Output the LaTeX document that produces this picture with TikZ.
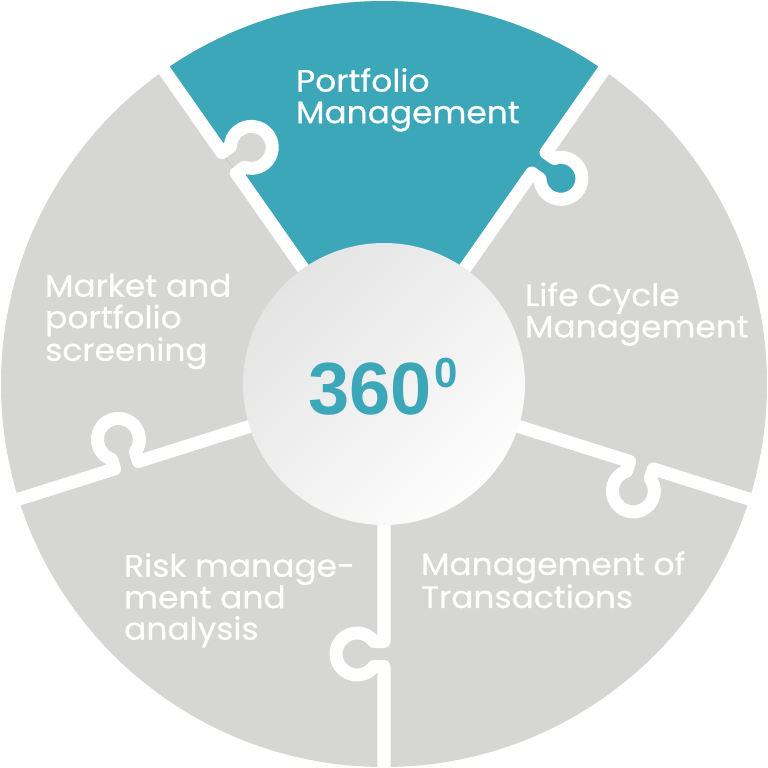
\documentclass[tikz,border=0pt]{standalone}
\usepackage{fontspec}
\setmainfont{Poppins}[FakeStretch=1.06, FakeBold=0.5]
\newfontfamily\numfont{Liberation Sans}
\definecolor{tealpiece}{RGB}{61,167,186}
\definecolor{graypiece}{RGB}{214,214,212}
\definecolor{centerdark}{RGB}{228,228,228}
\definecolor{centerlight}{RGB}{253,253,253}
\begin{document}
\begin{tikzpicture}[x=1pt,y=1pt,
  gap/.style={draw=white, line width=13pt, line join=round, line cap=butt},
  lbl/.style={text=white, inner sep=0pt, anchor=base west, font=\fontsize{31}{31.5}\selectfont}
]
\useasboundingbox (-384,-384) rectangle (384,384);
\fill[white] (-384,-384) rectangle (384,384);
% base disk
\fill[graypiece] (0,0) circle (383);
% teal sector
\fill[tealpiece] (0,0) -- (55:383) arc[start angle=55, end angle=125, radius=383] -- cycle;
\begin{scope}[rotate=55]
  \fill[tealpiece] (270,-27) circle (21);
  \fill[tealpiece] (257.5,-15) rectangle (282.5,0);
\end{scope}
\begin{scope}[rotate=125]
  \fill[graypiece] (270,-27) circle (21);
  \fill[graypiece] (257.5,-15) rectangle (282.5,0);
\end{scope}
% white gaps with puzzle knobs
\foreach \a in {55,125,197.5,270,342.5}{
  \draw[gap, rotate=\a] (120,0) -- (257.5,0) -- (257.5,-10.12)
    arc[start angle=126.5, end angle=413.5, radius=21] -- (282.5,0) -- (400,0);
}
% centre circle
\shade[shading=axis, top color=centerdark, bottom color=centerlight, shading angle=45] (0,0) circle (141);
\node[anchor=base, inner sep=0pt, text=tealpiece] (deg) at (-1,-31)
  {\numfont\bfseries\fontsize{74}{74}\selectfont 360\kern3pt\raisebox{27pt}{\fontsize{42}{42}\selectfont 0}};
% labels
\node[lbl] (port) at (-88,292.3) {\vtop{\hbox{Portfolio}\hbox{Management}}};
\node[lbl] (life) at (141,78) {\vtop{\hbox{Life Cycle}\hbox{Management}}};
\node[lbl] (market) at (-339,87.3) {\vtop{\hbox{Market and}\hbox{portfolio}\hbox{screening}}};
\node[lbl] (risk) at (-260,-192.7) {\vtop{\hbox{Risk manage-}\hbox{ment and}\hbox{analysis}}};
\node[lbl] (trans) at (37,-191) {\vtop{\hbox{Management of}\hbox{Transactions}}};
\end{tikzpicture}
\end{document}
